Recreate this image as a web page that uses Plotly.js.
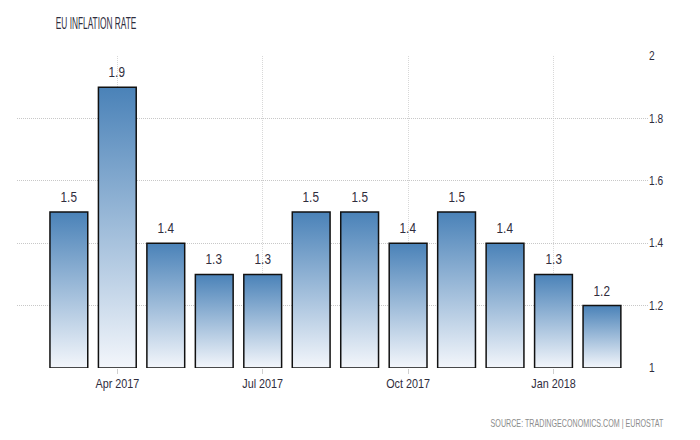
<!DOCTYPE html>
<html>
<head>
<meta charset="utf-8">
<script src="https://cdn.plot.ly/plotly-3.0.1.min.js"></script>
<style>
  html, body { margin: 0; padding: 0; background: #fff; }
  #chart { width: 700px; height: 440px; }
</style>
</head>
<body>
<div id="chart"></div>
<script>
// Data
const months = ["Mar 2017", "Apr 2017", "May 2017", "Jun 2017", "Jul 2017", "Aug 2017",
                "Sep 2017", "Oct 2017", "Nov 2017", "Dec 2017", "Jan 2018", "Feb 2018"];
const inflation = [1.5, 1.9, 1.4, 1.3, 1.3, 1.5, 1.5, 1.4, 1.5, 1.4, 1.3, 1.2];
const tickLabels = ["Apr 2017", "Jul 2017", "Oct 2017", "Jan 2018"];
const yTicks = [1, 1.2, 1.4, 1.6, 1.8, 2];
const sourceText = "SOURCE: TRADINGECONOMICS.COM | EUROSTAT";

const idx = months.map((m, i) => i);
const tickPos = tickLabels.map(t => months.indexOf(t));

const FONT = "Liberation Sans, Arial, sans-serif";
const TXT = "#2f2d3d";

const trace = {
  type: "bar",
  x: idx,
  y: inflation.map(v => v - 1),
  base: 1,
  width: 0.78,
  marker: { color: "#4a82b8", line: { color: "#111", width: 1.5 } },
  hoverinfo: "skip"
};

const annotations = idx.map(i => ({
  x: i, y: inflation[i], xref: "x", yref: "y",
  text: inflation[i].toFixed(1), showarrow: false,
  yanchor: "bottom", yshift: 5,
  font: { family: FONT, size: 14, color: TXT }
}));
annotations.push({
  xref: "paper", yref: "paper", x: 1.0, y: -0.176, xanchor: "right", yanchor: "middle",
  xshift: 18,
  text: sourceText, showarrow: false,
  font: { family: FONT, size: 10.5, color: "#8c8c8c" }
});

const layout = {
  width: 700, height: 440,
  margin: { l: 17, r: 52, t: 56, b: 72 },
  paper_bgcolor: "#fff", plot_bgcolor: "#fff",
  showlegend: false,
  title: {
    text: "EU INFLATION RATE",
    x: 43 / 700, xanchor: "left", xref: "paper",
    y: 1 - 23.5 / 440, yanchor: "middle", yref: "container",
    font: { family: FONT, size: 16, color: TXT }
  },
  xaxis: {
    type: "linear",
    range: [-1.07, 11.95],
    tickmode: "array",
    tickvals: tickPos,
    ticktext: tickLabels,
    ticks: "outside", ticklen: 5, tickcolor: "#d0d0d0", tickwidth: 1,
    showgrid: true, gridcolor: "#d8d8d8", griddash: "1px,1px", gridwidth: 1,
    zeroline: false, showline: false,
    tickfont: { family: FONT, size: 12, color: TXT }
  },
  yaxis: {
    side: "right",
    range: [1, 2],
    tickmode: "array",
    tickvals: yTicks,
    ticktext: yTicks.map(v => String(v)),
    ticks: "", showgrid: true, gridcolor: "#c8c8c8", griddash: "1px,1px", gridwidth: 1,
    zeroline: false, showline: false,
    ticklabelstandoff: 0,
    tickfont: { family: FONT, size: 12, color: TXT }
  },
  annotations: annotations
};

// Narrow the text horizontally (the reference uses a condensed face)
function condense(el, k, pivot) {
  const b = el.getBBox();
  let px = b.x + b.width / 2;
  if (pivot === "left") px = b.x;
  if (pivot === "right") px = b.x + b.width;
  const t = el.getAttribute("transform") || "";
  el.setAttribute("transform", (t + ` translate(${px},0) scale(${k},1) translate(${-px},0)`).trim());
}

Plotly.newPlot("chart", [trace], layout, { staticPlot: true, displayModeBar: false }).then(gd => {
  const svgNS = "http://www.w3.org/2000/svg";
  const svg = gd.querySelector("svg.main-svg");
  let defs = svg.querySelector("defs");
  if (!defs) { defs = document.createElementNS(svgNS, "defs"); svg.insertBefore(defs, svg.firstChild); }
  const grad = document.createElementNS(svgNS, "linearGradient");
  grad.setAttribute("id", "barGrad");
  grad.setAttribute("x1", "0"); grad.setAttribute("y1", "0");
  grad.setAttribute("x2", "0"); grad.setAttribute("y2", "1");
  [["0%", "#4a82b8"], ["100%", "#f3f6fb"]].forEach(([o, c]) => {
    const s = document.createElementNS(svgNS, "stop");
    s.setAttribute("offset", o); s.setAttribute("stop-color", c);
    grad.appendChild(s);
  });
  defs.appendChild(grad);
  gd.querySelectorAll(".bars .point path").forEach(p => { p.style.fill = "url(#barGrad)"; });

  gd.querySelectorAll(".gtitle").forEach(el => condense(el, 0.52, "left"));
  gd.querySelectorAll(".xtick text").forEach(el => condense(el, 0.9, "center"));
  gd.querySelectorAll(".ytick text").forEach(el => condense(el, 0.85, "left"));
  const ann = gd.querySelectorAll(".annotation-text");
  ann.forEach((el, i) => {
    if (i === ann.length - 1) condense(el, 0.68, "right");
    else condense(el, 0.84, "center");
  });
});
</script>
</body>
</html>
